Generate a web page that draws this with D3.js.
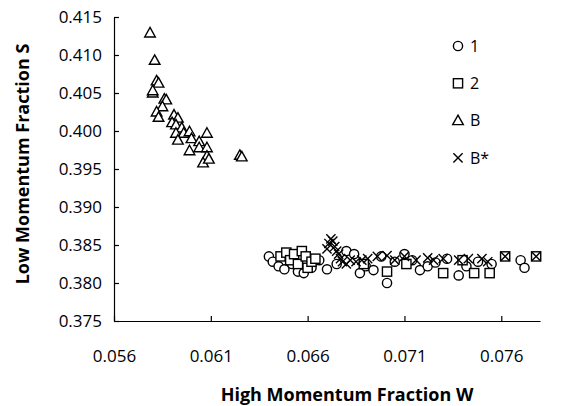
<!DOCTYPE html>
<html><head><meta charset="utf-8">
<script src="https://cdn.jsdelivr.net/npm/d3@7"></script>
<style>body{margin:0;background:#fff}svg{display:block}</style>
</head><body>
<svg id="c" width="569" height="406"></svg>
<script>
const xTicks=[0.056,0.061,0.066,0.071,0.076];
const yTicks=[0.375,0.380,0.385,0.390,0.395,0.400,0.405,0.410,0.415];
const seriesNames=["1","2","B","B*"];
const s1=[[0.0640,0.3835],[0.0642,0.3828],[0.0645,0.3822],[0.0648,0.3818],[0.0652,0.3825],[0.0655,0.3815],[0.0658,0.3813],[0.0662,0.3820],[0.0666,0.3830],[0.0670,0.3818],[0.0675,0.3825],[0.0680,0.3842],[0.0684,0.3838],[0.0687,0.3813],[0.0690,0.3822],[0.0694,0.3817],[0.0698,0.3835],[0.0701,0.3800],[0.0705,0.3828],[0.0710,0.3838],[0.0714,0.3830],[0.0718,0.3817],[0.0722,0.3822],[0.0726,0.3827],[0.0732,0.3832],[0.0738,0.3810],[0.0742,0.3822],[0.0748,0.3828],[0.0755,0.3825],[0.0770,0.3830],[0.0772,0.3820]];
const s2=[[0.0646,0.3835],[0.0649,0.3840],[0.0651,0.3830],[0.0653,0.3838],[0.0655,0.3825],[0.0657,0.3842],[0.0659,0.3835],[0.0660,0.3820],[0.0662,0.3828],[0.0664,0.3832],[0.0689,0.3825],[0.0701,0.3815],[0.0711,0.3825],[0.0730,0.3813],[0.0740,0.3830],[0.0746,0.3813],[0.0754,0.3813],[0.0762,0.3835],[0.0778,0.3835]];
const sB=[[0.05786,0.4129],[0.0581,0.4093],[0.0582,0.4066],[0.0583,0.4063],[0.0580,0.4050],[0.0580,0.4053],[0.0586,0.4042],[0.0587,0.4041],[0.0585,0.4032],[0.0582,0.4025],[0.0583,0.4018],[0.0591,0.4021],[0.0593,0.4017],[0.0590,0.4011],[0.0592,0.4008],[0.0595,0.4004],[0.0592,0.3997],[0.0596,0.3997],[0.0599,0.3999],[0.0593,0.3988],[0.0600,0.3990],[0.0604,0.3986],[0.0608,0.3997],[0.0599,0.3974],[0.0604,0.3978],[0.0608,0.3978],[0.0608,0.3967],[0.0606,0.3958],[0.0609,0.3963],[0.0625,0.3968],[0.0626,0.3966]];
const sBs=[[0.0670,0.3845],[0.0671,0.3852],[0.0672,0.3858],[0.0673,0.3855],[0.0674,0.3848],[0.0675,0.3842],[0.0676,0.3838],[0.0677,0.3832],[0.0678,0.3828],[0.0680,0.3825],[0.0682,0.3830],[0.0685,0.3828],[0.0688,0.3830],[0.0691,0.3832],[0.0696,0.3835],[0.0701,0.3836],[0.0705,0.3830],[0.0710,0.3835],[0.0716,0.3830],[0.0722,0.3833],[0.0725,0.3830],[0.0730,0.3832],[0.0738,0.3830],[0.0743,0.3832],[0.0750,0.3832],[0.0753,0.3828],[0.0762,0.3835],[0.0778,0.3835]];

const svg=d3.select("#c");
const FONT="'Open Sans', sans-serif";
const x=d3.scaleLinear().domain([0.056,0.078]).range([114,540]);
const y=d3.scaleLinear().domain([0.375,0.415]).range([321,17]);

const xa=svg.append("g").attr("transform","translate(0,321)")
  .call(d3.axisBottom(x).tickValues(xTicks).tickFormat(d3.format(".3f")).tickSizeInner(-5).tickSizeOuter(0).tickPadding(29));
const ya=svg.append("g").attr("transform","translate(114,0)")
  .call(d3.axisLeft(y).tickValues(yTicks).tickFormat(d3.format(".3f")).tickSizeInner(-5).tickSizeOuter(0).tickPadding(12));
[xa,ya].forEach(a=>{
  a.selectAll("text").attr("font-family",FONT).attr("font-size",17).attr("fill","#000");
  a.selectAll("line,path").attr("stroke","#000").attr("stroke-width",1.2);
});

svg.append("text").attr("x",347).attr("y",401).attr("text-anchor","middle")
  .attr("font-family",FONT).attr("font-weight","bold").attr("font-size",18).text("High Momentum Fraction W");
svg.append("text").attr("transform","translate(29,164) rotate(-90)").attr("text-anchor","middle")
  .attr("font-family",FONT).attr("font-weight","bold").attr("font-size",18).text("Low Momentum Fraction S");

const sw=1.4;
function circle(g,cx,cy){g.append("circle").attr("cx",cx).attr("cy",cy).attr("r",4.6).attr("fill","#fff").attr("stroke","#000").attr("stroke-width",sw);}
function square(g,cx,cy){g.append("rect").attr("x",cx-4.6).attr("y",cy-4.6).attr("width",9.2).attr("height",9.2).attr("fill","#fff").attr("stroke","#000").attr("stroke-width",sw);}
function tri(g,cx,cy){g.append("path").attr("d",`M${cx},${cy-5.5}L${cx+5.3},${cy+4}L${cx-5.3},${cy+4}Z`).attr("fill","#fff").attr("stroke","#000").attr("stroke-width",sw).attr("stroke-linejoin","miter");}
function cross(g,cx,cy){g.append("path").attr("d",`M${cx-4.6},${cy-4.6}L${cx+4.6},${cy+4.6}M${cx+4.6},${cy-4.6}L${cx-4.6},${cy+4.6}`).attr("fill","none").attr("stroke","#000").attr("stroke-width",sw);}
const shapes=[circle,square,tri,cross];
const data=[s1,s2,sB,sBs];

const plot=svg.append("g");
data.forEach((s,i)=>{
  const g=plot.append("g");
  s.forEach(d=>shapes[i](g,x(d[0]),y(d[1])));
});

const leg=svg.append("g");
seriesNames.forEach((n,i)=>{
  const cy=46+i*37.3;
  const g=leg.append("g");
  shapes[i](g,458,cy);
  g.append("text").attr("x",470).attr("y",cy).attr("dy","0.35em").attr("font-family",FONT).attr("font-size",16).text(n);
});
</script>
</body></html>
